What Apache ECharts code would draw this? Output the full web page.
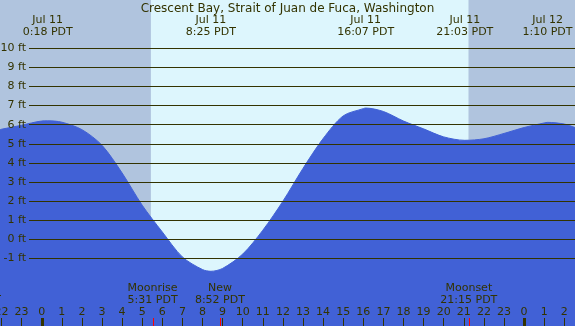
<!DOCTYPE html>
<html>
<head>
<meta charset="utf-8">
<script src="https://cdn.jsdelivr.net/npm/echarts@6/dist/echarts.min.js"></script>
<style>
  html, body { margin: 0; padding: 0; }
  #tide-chart { width: 575px; height: 326px; }
</style>
</head>
<body>
<div id="tide-chart"></div>
<script>
// tide height (ft), hours counted from Jul 11 0:00 PDT
const tideHours = [-2.1, -2, -1, 0, 0.3, 1, 2, 3, 4, 5, 6, 7, 8, 8.42, 9, 10, 11, 12, 13, 14, 15, 16, 16.12, 17, 18, 19, 20, 21.05, 22, 23, 24, 25, 25.17, 26, 26.55]
const tideFeet = [5.73, 5.76, 5.97, 6.19, 6.2, 6.13, 5.74, 4.92, 3.47, 1.78, 0.38, -0.93, -1.59, -1.68, -1.53, -0.78, 0.47, 1.99, 3.71, 5.27, 6.46, 6.84, 6.87, 6.69, 6.19, 5.78, 5.36, 5.18, 5.26, 5.54, 5.85, 6.09, 6.12, 6.03, 5.84]

// high / low tide times
const extremeTimes = ['Jul 11 0:18', 'Jul 11 8:25', 'Jul 11 16:07', 'Jul 11 21:03', 'Jul 12 1:10']

// moon events
const moonNames = ['Moonset', 'Moonrise', 'New', 'Moonset']
const moonTimes = ['Jul 10 20:33', 'Jul 11 5:31', 'Jul 11 8:52', 'Jul 11 21:15']

// daylight
const sunTimes = ['Jul 11 5:26', 'Jul 11 21:14']

const feetMin = -1
const feetMax = 10
const title = 'Crescent Bay, Strait of Juan de Fuca, Washington'

// layout (pixels)
const W = 575
const H = 326
const X_ZERO = 41.7      // Jul 11 0:00
const PX_PER_HOUR = 20.1
const Y_TOP_LINE = 48.3  // 10 ft
const Y_BOTTOM_LINE = 258.3 // -1 ft
const PX_PER_FT = (Y_BOTTOM_LINE - Y_TOP_LINE) / (feetMax - feetMin)

const TEXT = '#333300'
const NIGHT = '#b0c4de'
const DAY = '#ddf6fd'
const WATER = '#4161d6'
const FONT = 'DejaVu Sans'

function toHours(s) {
  const parts = s.split(' ')
  const day = parseInt(parts[1], 10)
  const hm = parts[2].split(':')
  return (day - 11) * 24 + parseInt(hm[0], 10) + parseInt(hm[1], 10) / 60
}

const chart = echarts.init(document.getElementById('tide-chart'))

const option = {
  animation: false,
  backgroundColor: NIGHT,
  textStyle: { fontFamily: FONT },
  title: {
    text: title,
    left: 'center',
    top: -2,
    textStyle: { fontSize: 12, fontWeight: 'normal', color: TEXT, fontFamily: FONT }
  },
  grid: [
    // ft lines
    { left: 29, right: 0, top: Y_TOP_LINE, bottom: H - Y_BOTTOM_LINE, outerBoundsMode: 'none', containLabel: false },
    // tide area, whole picture
    {
      left: X_ZERO - 3 * PX_PER_HOUR,
      right: W - (X_ZERO + 27 * PX_PER_HOUR),
      top: 0,
      bottom: 0,
      outerBoundsMode: 'none',
      containLabel: false
    }
  ],
  xAxis: [
    { gridIndex: 0, type: 'value', show: false, min: 0, max: 1 },
    {
      gridIndex: 1,
      type: 'value',
      position: 'bottom',
      min: -3,
      max: 27,
      interval: 1,
      z: 10,
      axisLine: { show: false, onZero: false },
      splitLine: { show: false },
      axisTick: { inside: true, length: 8, lineStyle: { color: TEXT, width: 1 } },
      axisLabel: {
        inside: true,
        margin: 8,
        color: TEXT,
        fontSize: 11,
        fontFamily: FONT,
        formatter: (v) => String(((v % 24) + 24) % 24)
      }
    }
  ],
  yAxis: [
    {
      gridIndex: 0,
      type: 'value',
      min: feetMin,
      max: feetMax,
      interval: 1,
      z: 10,
      axisLine: { show: false },
      axisTick: { show: false },
      axisLabel: {
        margin: 3,
        color: TEXT,
        fontSize: 11,
        fontFamily: FONT,
        formatter: '{value} ft'
      },
      splitLine: { lineStyle: { color: TEXT, width: 1 } }
    },
    {
      gridIndex: 1,
      type: 'value',
      show: false,
      min: feetMin - (H - Y_BOTTOM_LINE) / PX_PER_FT,
      max: feetMax + Y_TOP_LINE / PX_PER_FT
    }
  ],
  series: [
    {
      name: 'tide',
      type: 'line',
      xAxisIndex: 1,
      yAxisIndex: 1,
      smooth: 0.3,
      showSymbol: false,
      silent: true,
      lineStyle: { color: WATER, width: 1 },
      areaStyle: { color: WATER, opacity: 1, origin: 'start' },
      data: tideHours.map((h, i) => [h, tideFeet[i]]),
      markArea: {
        silent: true,
        itemStyle: { color: DAY },
        data: [[{ xAxis: toHours(sunTimes[0]) }, { xAxis: toHours(sunTimes[1]) }]]
      }
    }
  ]
}

chart.setOption(option)

// labels and marks placed on the hour scale
const px = (h) => chart.convertToPixel({ gridIndex: 1 }, [h, 0])[0]
const graphics = []

extremeTimes.forEach((t) => {
  const parts = t.split(' ')
  graphics.push({
    type: 'text',
    x: px(toHours(t)),
    y: 14,
    z: 20,
    style: {
      text: parts[0] + ' ' + parts[1] + '\n' + parts[2] + ' PDT',
      align: 'center',
      verticalAlign: 'top',
      lineHeight: 12,
      font: '11px "DejaVu Sans"',
      fill: TEXT
    }
  })
})

moonTimes.forEach((t, i) => {
  const x = px(toHours(t))
  graphics.push({
    type: 'text',
    x: x,
    y: 282,
    z: 20,
    style: {
      text: moonNames[i] + '\n' + t.split(' ')[2] + ' PDT',
      align: 'center',
      verticalAlign: 'top',
      lineHeight: 12,
      font: '11px "DejaVu Sans"',
      fill: TEXT
    }
  })
  graphics.push({
    type: 'line',
    z: 20,
    shape: { x1: Math.round(x) + 0.5, y1: 318, x2: Math.round(x) + 0.5, y2: H },
    style: { stroke: '#ff0000', lineWidth: 1 }
  })
})

// midnight ticks
;[0, 24].forEach((h) => {
  graphics.push({
    type: 'rect',
    z: 20,
    shape: { x: Math.round(px(h)) - 1, y: 318, width: 3, height: 8 },
    style: { fill: TEXT }
  })
})

chart.setOption({ graphic: graphics })
</script>
</body>
</html>
